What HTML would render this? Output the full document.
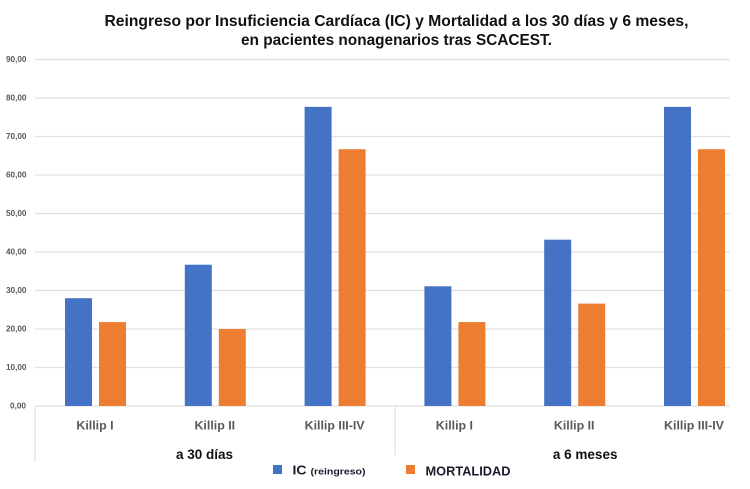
<!DOCTYPE html>
<html>
<head>
<meta charset="utf-8">
<style>
html,body{margin:0;padding:0;background:#fff;}
svg{display:block;}
text{font-family:"Liberation Sans",sans-serif;}
</style>
</head>
<body>
<svg id="chart" width="750" height="489" viewBox="0 0 750 489" xmlns="http://www.w3.org/2000/svg">
<rect x="0" y="0" width="750" height="489" fill="#ffffff"/>
<text x="396.5" y="26" text-anchor="middle" font-size="15.5" font-weight="bold" fill="#111111" textLength="584" lengthAdjust="spacingAndGlyphs">Reingreso por Insuficiencia Cardíaca (IC) y Mortalidad a los 30 días y 6 meses,</text>
<text x="396.5" y="45" text-anchor="middle" font-size="15.5" font-weight="bold" fill="#111111" textLength="311" lengthAdjust="spacingAndGlyphs">en pacientes nonagenarios tras SCACEST.</text>
<g id="grid"></g>
<g id="bars"></g>
<g id="axis"></g>
<g>
<rect x="273" y="465" width="9" height="9" fill="#4472c4"/>
<text x="292.5" y="474.5" font-size="12.5" font-weight="bold" fill="#1a1a2a" textLength="14" lengthAdjust="spacingAndGlyphs">IC</text>
<text x="310.5" y="474.5" font-size="9.5" font-weight="bold" fill="#1a1a2a" textLength="55" lengthAdjust="spacingAndGlyphs">(reingreso)</text>
<rect x="406" y="465" width="9" height="9" fill="#ed7d31"/>
<text x="425.5" y="475.5" font-size="12.5" font-weight="bold" fill="#1a1a2a" textLength="85" lengthAdjust="spacingAndGlyphs">MORTALIDAD</text>
</g>
</svg>
<script>
const categories = ["Killip I", "Killip II", "Killip III-IV", "Killip I", "Killip II", "Killip III-IV"];
const groups = ["a 30 días", "a 6 meses"];
const icValues = [28.0, 36.7, 77.7, 31.1, 43.2, 77.7];
const mortalityValues = [21.8, 20.0, 66.7, 21.8, 26.6, 66.7];
const tickValues = [0, 10, 20, 30, 40, 50, 60, 70, 80, 90];
const tickLabels = ["0,00", "10,00", "20,00", "30,00", "40,00", "50,00", "60,00", "70,00", "80,00", "90,00"];

const NS = "http://www.w3.org/2000/svg";
const plotLeft = 35, plotRight = 730, bandStart = 35.6, bandWidth = 119.8;
const yZero = 406, pxPerUnit = 3.85, barWidth = 27, barGap = 7;
const yScale = function (v) { return yZero - v * pxPerUnit; };
const xCenter = function (i) { return bandStart + bandWidth * (i + 0.5); };

function make(tag, attrs, parent, content) {
  const el = document.createElementNS(NS, tag);
  Object.keys(attrs).forEach(function (k) { el.setAttribute(k, attrs[k]); });
  if (content !== undefined) el.textContent = content;
  parent.appendChild(el);
  return el;
}

const gridG = document.getElementById("grid");
const barsG = document.getElementById("bars");
const axisG = document.getElementById("axis");

tickValues.forEach(function (t, i) {
  const y = yScale(t);
  const line = make("line", {x1: plotLeft, x2: plotRight, y1: y, y2: y, stroke: "#e0e0e0", "stroke-width": 1.3}, gridG);
  
  
  const label = make("text", {x: 6, y: y + 2.5, "font-size": 8, "font-weight": "bold", fill: "#595959", textLength: 20.5, lengthAdjust: "spacingAndGlyphs"}, axisG, tickLabels[i]);
  if (t === 0) { label.setAttribute("textLength", 16); label.setAttribute("x", 10); }
  
  
});

categories.forEach(function (c, i) {
  const cx = xCenter(i);
  const icBar = make("rect", {x: cx - barGap / 2 - barWidth, y: yScale(icValues[i]), width: barWidth, height: yZero - yScale(icValues[i]), fill: "#4472c4"}, barsG);
  
  
  const mBar = make("rect", {x: cx + barGap / 2, y: yScale(mortalityValues[i]), width: barWidth, height: yZero - yScale(mortalityValues[i]), fill: "#ed7d31"}, barsG);
  
  
  const label = make("text", {x: cx - 0.5, y: 429.5, "text-anchor": "middle", "font-size": 12.4, "font-weight": "bold", fill: "#595959"}, axisG, c);
  
  
});

[[35, 462], [395, 455]].forEach(function (s) {
  const sep = make("line", {x1: s[0], x2: s[0], y1: yZero, y2: s[1], stroke: "#e0e0e0", "stroke-width": 1.2}, axisG);
  
  
});

groups.forEach(function (g, i) {
  const cx = xCenter(i * 3 + 1);
  const label = make("text", {x: i === 0 ? cx - 10.8 : cx + 10.5, y: 459, "text-anchor": "middle", "font-size": 13.5, "font-weight": "bold", fill: "#111111"}, axisG, g);
  
  
});
</script>
</body>
</html>
